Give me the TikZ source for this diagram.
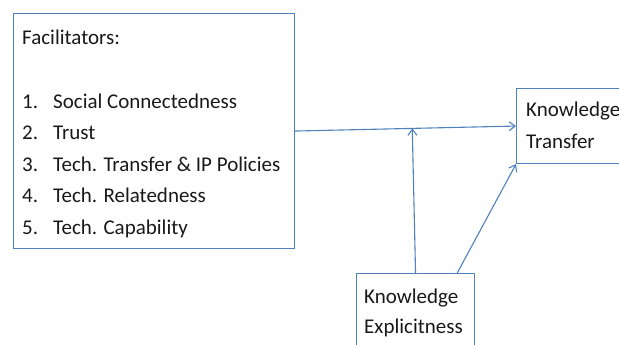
\documentclass[tikz,border=0pt]{standalone}
\usepackage{fontspec}
\setmainfont{Carlito}
\usetikzlibrary{positioning,calc,arrows.meta}
\definecolor{lineblue}{RGB}{79,129,189}

\begin{document}
\begin{tikzpicture}[
    x=1pt, y=1pt,
    frame/.style={rectangle, draw=lineblue, line width=1.1pt, inner sep=0pt, anchor=north west},
    txt/.style={inner sep=0pt, anchor=base west, font=\fontsize{21}{25}\selectfont, text=black!90},
    link/.style={draw=lineblue, line width=1.1pt, -{Straight Barb[length=6pt,width=9pt]}}
]
\useasboundingbox (0,0) rectangle (619,-345);
\clip (0,0) rectangle (619,-345);

% Facilitators box
\node[frame, minimum width=281pt, minimum height=235pt] (facil) at (13,-13) {};
\node[txt] (facil_title) at ([shift={(9pt,-32pt)}]facil.north west) {Facilitators:};
\node[txt, below=63pt of facil_title.base west, anchor=base west] (facil_1) {\makebox[31pt][l]{1.}Social Connectedness};
\node[txt, below=31.5pt of facil_1.base west, anchor=base west] (facil_2) {\makebox[31pt][l]{2.}Trust};
\node[txt, below=31.5pt of facil_2.base west, anchor=base west] (facil_3) {\makebox[31pt][l]{3.}Tech. Transfer \& IP Policies};
\node[txt, below=31.5pt of facil_3.base west, anchor=base west] (facil_4) {\makebox[31pt][l]{4.}Tech. Relatedness};
\node[txt, below=31.5pt of facil_4.base west, anchor=base west] (facil_5) {\makebox[31pt][l]{5.}Tech. Capability};

% Knowledge Transfer box
\node[frame, minimum width=130pt, minimum height=75pt] (kt) at (516,-88) {};
\node[txt] (kt_1) at ([shift={(10pt,-29pt)}]kt.north west) {Knowledge};
\node[txt, below=31pt of kt_1.base west, anchor=base west] (kt_2) {Transfer};

% Knowledge Explicitness box
\node[frame, minimum width=118pt, minimum height=90pt] (ke) at (356,-273) {};
\node[txt] (ke_1) at ([shift={(8pt,-30pt)}]ke.north west) {Knowledge};
\node[txt, below=30pt of ke_1.base west, anchor=base west] (ke_2) {Explicitness};

% Links
\draw[link] (facil.east) -- (kt.west);
\coordinate (meet) at ($(facil.east)!(ke.north)!(kt.west)$);
\draw[link] (ke.north) -- (meet);
\coordinate (ke_out) at ($(ke.north)!0.7!(ke.north east)$);
\draw[link] (ke_out) -- (kt.south west);

\end{tikzpicture}
\end{document}
